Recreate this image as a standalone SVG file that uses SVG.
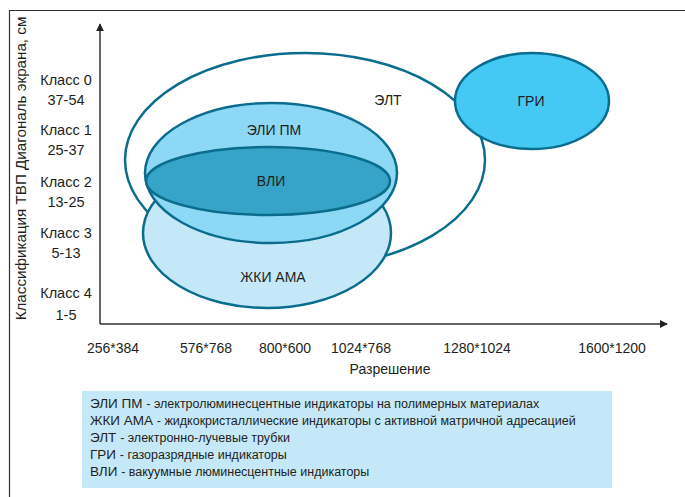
<svg xmlns="http://www.w3.org/2000/svg" width="685" height="497" viewBox="0 0 685 497">
<style>
text{font-family:"Liberation Sans","DejaVu Sans",sans-serif;fill:#231f20}
.lab{font-size:14px;text-anchor:middle}
.node{stroke:#0b6d8e;stroke-width:2.5}
.leg{font-size:13.5px}
.small{font-size:12.5px}
.axis{stroke:#333;stroke-width:1.5;fill:none}
</style>
<defs>
<marker id="arr" viewBox="0 0 10 10" refX="9" refY="5" markerWidth="8" markerHeight="8" orient="auto" markerUnits="userSpaceOnUse">
<path d="M0,0 L10,5 L0,10 z" fill="#222"/>
</marker>
</defs>
<rect width="685" height="497" fill="#fff"/>
<path d="M9.5,497 V10.5 H685" fill="none" stroke="#333" stroke-width="1.2"/>
<g id="axes">
<path class="axis" d="M100,324 V24" marker-end="url(#arr)"/>
<path class="axis" d="M100,324 H667" marker-end="url(#arr)"/>
</g>
<g id="ylabels" class="lab" style="font-size:14.5px">
<text x="66" y="85">Класс 0</text><text x="66" y="105">37-54</text>
<text x="66" y="135">Класс 1</text><text x="66" y="155">25-37</text>
<text x="66" y="187">Класс 2</text><text x="66" y="207">13-25</text>
<text x="66" y="238">Класс 3</text><text x="66" y="258">5-13</text>
<text x="66" y="298">Класс 4</text><text x="66" y="320">1-5</text>
</g>
<text class="lab" style="font-size:15.2px" transform="translate(26,168.5) rotate(-90)">Классификация ТВП Диагональ экрана, см</text>
<g id="xlabels" class="lab">
<text x="113" y="353">256*384</text>
<text x="206" y="353">576*768</text>
<text x="285" y="353">800*600</text>
<text x="361" y="353">1024*768</text>
<text x="477" y="353">1280*1024</text>
<text x="612" y="353">1600*1200</text>
<text x="390" y="374">Разрешение</text>
</g>
<g id="node-elt">
<ellipse class="node" cx="305" cy="160" rx="180" ry="107" fill="#fff"/>
<text class="lab" x="388" y="105">ЭЛТ</text>
</g>
<g id="node-gri">
<ellipse class="node" cx="532" cy="101" rx="77" ry="48" fill="#44c8f4"/>
<text class="lab" x="531" y="106">ГРИ</text>
</g>
<g id="node-zhki">
<ellipse class="node" cx="267" cy="233" rx="124" ry="75" fill="#c5e8f8"/>
<text class="lab" x="273" y="282">ЖКИ АМА</text>
</g>
<g id="node-eli">
<ellipse class="node" cx="271" cy="173" rx="126" ry="70" fill="#8dd8f5"/>
<text class="lab" x="274" y="135">ЭЛИ ПМ</text>
</g>
<g id="node-vli">
<ellipse class="node" cx="268" cy="181" rx="122" ry="34" fill="#36a3c8"/>
<text class="lab" x="271" y="186">ВЛИ</text>
</g>
<g id="connectors"></g>
<g id="legend">
<rect x="82" y="391" width="530" height="97" fill="#c5e8f8"/>
<text class="leg" x="90" y="408">ЭЛИ ПМ <tspan class="small">- электролюминесцентные индикаторы на полимерных материалах</tspan></text>
<text class="leg" x="90" y="425">ЖКИ АМА <tspan class="small">- жидкокристаллические индикаторы с активной матричной адресацией</tspan></text>
<text class="leg" x="90" y="442">ЭЛТ <tspan class="small">- электронно-лучевые трубки</tspan></text>
<text class="leg" x="90" y="459">ГРИ <tspan class="small">- газоразрядные индикаторы</tspan></text>
<text class="leg" x="90" y="476">ВЛИ <tspan class="small">- вакуумные люминесцентные индикаторы</tspan></text>
</g>
</svg>
